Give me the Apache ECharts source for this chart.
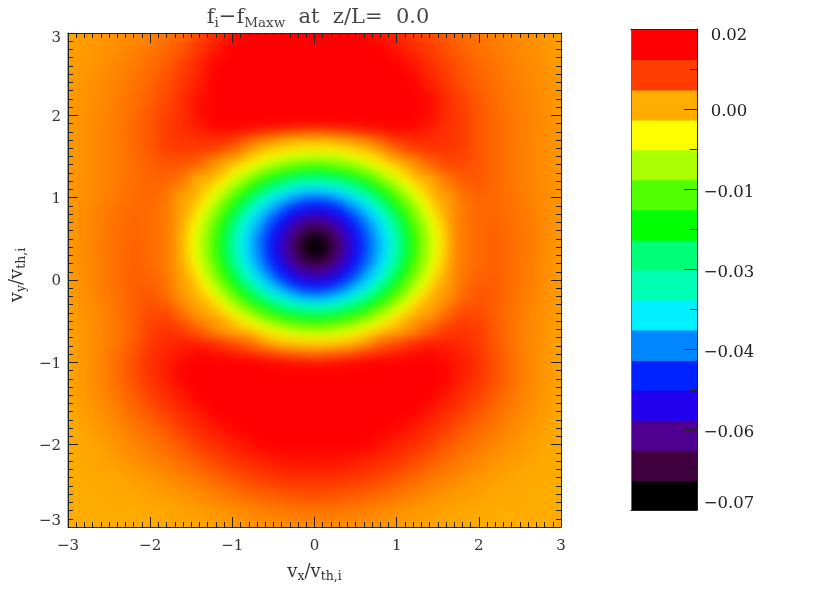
<!DOCTYPE html>
<html><head><meta charset="utf-8">
<style>
html,body{margin:0;padding:0;background:#fff}
#chart{width:830px;height:593px}
#chart canvas:first-of-type{filter:blur(6px);clip-path:inset(33px 269px 66px 67px)}
</style>
<script src="https://cdn.jsdelivr.net/npm/echarts@6/dist/echarts.min.js"></script>
</head><body><div id="chart"></div>
<script>
// field values are in units of 0.001; columns are vx nodes, rows run from the first vy node to the last
const vxNodes=[-3,-2.8,-2.6,-2.4,-2.2,-2,-1.8,-1.6,-1.4,-1.2,-1,-0.8,-0.6,-0.4,-0.2,0,0.2,0.4,0.6,0.8,1,1.2,1.4,1.6,1.8,2,2.2,2.4,2.6,2.8,3];
const vyNodes=[3,2.8,2.6,2.4,2.2,2,1.9,1.8,1.7,1.6,1.4,1.2,1,0.8,0.6,0.4,0.2,0,-0.2,-0.4,-0.6,-0.8,-0.9,-1,-1.1,-1.2,-1.4,-1.6,-1.8,-2,-2.2,-2.4,-2.6,-2.8,-3];
const fieldRows=[
[6,6.2,6.5,6.8,7.2,7.6,8.2,9,10.5,12.5,15,17,18,18.5,18.5,18,18,17.5,16.5,14.5,13,11.5,10.5,9.5,8.8,8.2,7.8,7.4,7,6.5,6.1],
[6.1,6.4,6.8,7.2,7.6,8.2,9,10,12,14.5,17,19,20,20.5,21,21,21,20.5,19.5,17.5,15,13,11.5,10.3,9.3,8.6,8.1,7.6,7.2,6.7,6.2],
[6.2,6.6,7,7.5,8,8.8,9.6,11,13.5,16.5,18.5,20,21,22,22,22,22,21.5,20.5,19,17,15,12.8,11,10,9,8.4,7.8,7.4,6.9,6.3],
[6.3,6.7,7.2,7.7,8.3,9.2,10.2,11.8,14,17,19,20.5,21.5,22,22,22,22,22,21,20,18.5,16.5,14,11.8,10.3,9.4,8.6,8,7.5,7,6.4],
[6.4,6.8,7.3,7.9,8.6,9.5,10.6,12.5,15.5,18,20,21,22,22,22,22,22,22,21.5,20.5,19.5,18,16,12.8,11,9.8,8.8,8.1,7.6,7.1,6.5],
[6.4,6.9,7.4,8,8.8,9.8,11,12.8,15.5,18,19,19.5,20,20,20,20,20,20,20,19.5,19,18,16,13,11.2,10,9,8.2,7.7,7.2,6.5],
[6.4,6.9,7.5,8,8.9,9.9,11.2,12.7,15,17,17.5,17.5,17.5,17.5,17.5,17.5,17.5,17.5,17.5,17.5,17.5,17,15.3,12.8,11.3,10,9,8.3,7.8,7.3,6.6],
[6.5,7,7.5,8.1,8.9,9.9,11.3,12.5,13.5,15,15.5,14.5,13,11.5,10.5,10,10.5,11.5,13,14.5,15.5,15,13.5,12.3,11.2,10,9,8.3,7.8,7.3,6.6],
[6.5,7,7.5,8,8.9,9.9,11.2,12,12.5,12.5,12,9.5,7.5,6,5,5,5,6,7.5,9.5,12,13,13,12.2,11.3,10,9,8.3,7.7,7.2,6.6],
[6.5,7,7.5,8,8.9,9.8,11,11.5,11.5,11,9,6.8,5,4.5,1,0.5,1,4.5,5,6.8,9,11,12,12,11.3,10,9,8.3,7.7,7.2,6.6],
[6.5,7,7.5,8,8.7,9.4,10,10,9,6.5,5,-0.8,-5.5,-8.5,-11,-12,-11,-8.5,-5.5,-0.8,5,6.5,9,10.5,10.6,10,9,8.3,7.7,7.2,6.6],
[6.5,7,7.5,8,8.6,9.3,9.2,8,5,5,-4.5,-10.5,-17,-23,-27,-28,-27,-23,-17,-10.5,-4.5,5,5,8,9.5,9.9,9,8.3,7.7,7.2,6.6],
[6.5,7,7.6,8.2,8.8,9.1,8.3,6,5,-4.7,-12.5,-22,-30.5,-35.5,-38,-39,-38,-35.5,-30.5,-22,-12.5,-4.7,5,6,8.3,9.3,9,8.4,7.8,7.2,6.6],
[6.5,7.2,7.9,8.5,9,8.8,8,6,-1.2,-10,-21,-32,-38,-44,-49,-51,-49,-44,-38,-32,-21,-10,-1.2,6,8,9,9.2,8.6,8,7.3,6.6],
[6.5,7.2,8,8.6,9.2,8.8,8,5.8,-4.3,-14,-26,-36,-43,-52,-60,-63,-60,-52,-43,-36,-26,-14,-4.3,5.8,8,9,9.4,8.7,8.1,7.3,6.6],
[6.5,7.2,8,8.7,9.4,8.9,8,5.6,-5,-15,-28,-37,-45,-54,-64,-72,-64,-54,-45,-37,-28,-15,-5,5.6,8,9,9.5,8.8,8.1,7.3,6.6],
[6.4,7.2,7.9,8.7,9.4,9,8,5.6,-3.8,-13.5,-25,-35.5,-42.5,-50.5,-57.5,-60,-57.5,-50.5,-42.5,-35.5,-25,-13.5,-3.8,5.6,8,9,9.5,8.8,8,7.2,6.5],
[6.3,7.1,7.9,8.7,9.5,9.4,8.3,6,3,-9,-20,-30,-37,-42,-46,-47.5,-46,-42,-37,-30,-20,-9,3,6,8.3,9.4,9.6,8.8,8,7.2,6.4],
[6.2,7,7.7,8.6,9.5,10,8.8,6.5,5,-3.7,-10.5,-20,-28.5,-34,-36,-36.5,-36,-34,-28.5,-20,-10.5,-3.7,5,6.5,8.8,10,9.6,8.7,7.8,7,6.3],
[6.1,6.8,7.5,8.4,9.4,10.5,10.5,8.5,6,5.5,-3,-8.5,-15,-20.5,-24,-25,-24,-20.5,-15,-8.5,-3,5.5,6,8.5,10.5,10.5,9.5,8.5,7.6,6.9,6.2],
[6,6.7,7.4,8.3,9.5,11,12,11,9.3,7,5.5,5,-3.7,-6.5,-8.5,-9.5,-8.5,-6.5,-3.7,5,5.5,7,9.3,11,12,11.3,9.8,8.5,7.5,6.8,6.1],
[5.9,6.7,7.4,8.3,9.7,11.5,13,14,14,12.5,10.5,9,7,5.3,5,5,5,5.3,7,9,10.5,12.5,14,14,13,11.5,10,8.5,7.5,6.8,6],
[5.9,6.7,7.6,8.7,10.1,12,13.7,15,16.5,15.5,14.5,13,11.5,10,9,8.5,9,10,11.5,13,14.5,15.5,16.5,15,13.7,12,10.1,8.7,7.6,6.7,6],
[5.9,6.6,7.5,8.7,10.3,12.2,14.2,16,17.5,17.5,17.2,16.8,16.2,15.5,14.7,14.2,14.7,15.5,16.2,16.8,17.2,17.5,17.5,16,14.2,12.2,10.3,8.8,7.6,6.7,6],
[5.9,6.6,7.5,8.8,10.3,12.1,14.2,16.5,18,18.5,18.5,18.5,18.5,18.5,18.5,18.5,18.5,18.5,18.5,18.5,18.5,18.5,18,16.5,14.2,12.1,10.3,8.8,7.6,6.7,6],
[5.9,6.6,7.5,8.7,10.2,12,14,16.5,19,20,20,20,20,20,20,20,20,20,20,20,20,20,19,16.5,14,12,10.2,8.8,7.6,6.7,6],
[5.8,6.5,7.3,8.3,9.6,11,12.8,14.8,17,19,21,22,22,22,22,22,22,22,22,22,21,19,17,14.8,12.8,11,9.6,8.4,7.4,6.6,5.9],
[5.7,6.3,7,7.8,8.9,10,11.3,13,15,17.2,19,21,22,22,22,22,22,22,22,21,19,17.2,15,13,11.3,10,8.9,7.9,7.1,6.4,5.8],
[5.6,6,6.6,7.3,8.2,9,10,11.4,13,14.7,16.3,18,19,20,20.5,21,20.5,20,19,18,16.3,14.7,13,11.4,10,9,8.2,7.4,6.7,6.1,5.7],
[5.6,5.8,6.2,6.8,7.5,8.2,9,10,11.3,12.7,14,15.5,16.8,17.6,18.3,18.5,18.3,17.6,16.8,15.5,14,12.7,11.3,10,9,8.2,7.5,6.9,6.3,5.9,5.6],
[5.6,5.7,6,6.4,6.9,7.5,8.1,8.9,9.8,10.8,12,13,14,14.8,15.3,15.5,15.3,14.8,14,13,12,10.8,9.8,8.9,8.1,7.5,6.9,6.4,6,5.7,5.6],
[5.6,5.6,5.7,5.9,6.3,6.7,7.2,7.8,8.4,9.2,10,10.8,11.6,12.1,12.5,12.7,12.5,12.1,11.6,10.8,10,9.2,8.4,7.8,7.2,6.7,6.3,5.9,5.7,5.6,5.6],
[5.6,5.6,5.6,5.7,5.8,6.1,6.4,6.8,7.3,7.9,8.5,9.1,9.6,10,10.3,10.5,10.3,10,9.6,9.1,8.5,7.9,7.3,6.8,6.4,6.1,5.8,5.7,5.6,5.6,5.6],
[5.6,5.6,5.6,5.6,5.6,5.7,5.9,6.1,6.4,6.7,7.1,7.5,7.9,8.2,8.4,8.5,8.4,8.2,7.9,7.5,7.1,6.7,6.4,6.1,5.9,5.7,5.6,5.6,5.6,5.6,5.6],
[5.6,5.6,5.6,5.6,5.6,5.6,5.7,5.8,6,6.2,6.4,6.7,6.9,7.1,7.2,7.3,7.2,7.1,6.9,6.7,6.4,6.2,6,5.8,5.7,5.6,5.6,5.6,5.6,5.6,5.6]
];
// closed contours of the central hole, outermost first: level, half-width in vx, half-height in vy, centre vy
const ringLevels=[5,4,3,2,1,0,-2,-4,-6,-8,-11,-14,-17,-20,-23,-26,-29,-32,-34,-37,-39,-42,-45,-48,-51,-54,-57,-60,-63,-66,-69,-72];
const ringHalfX=[1.63,1.6,1.57,1.55,1.53,1.51,1.46,1.42,1.38,1.34,1.27,1.22,1.17,1.13,1.08,1.04,0.985,0.93,0.89,0.82,0.75,0.67,0.6,0.54,0.48,0.42,0.35,0.29,0.22,0.16,0.1,0.05];
const ringHalfY=[1.28,1.24,1.21,1.19,1.165,1.145,1.115,1.085,1.055,1.03,0.98,0.945,0.915,0.88,0.84,0.81,0.77,0.735,0.705,0.66,0.62,0.58,0.545,0.495,0.44,0.39,0.33,0.27,0.21,0.15,0.095,0.05];
const ringCentreY=[0.44,0.44,0.44,0.44,0.435,0.435,0.435,0.43,0.43,0.43,0.43,0.425,0.425,0.425,0.425,0.425,0.425,0.425,0.425,0.42,0.42,0.42,0.41,0.41,0.41,0.41,0.41,0.41,0.41,0.41,0.41,0.41];
const ringCentreX=0.01;
const bandValues=[-67.5,-61.9,-56.2,-50.6,-45,-39.4,-33.7,-28.1,-22.5,-16.9,-11.2,-5.6,0,5.6,11.2,16.9];
const bandColors=['#000000','#400040','#500090','#2200ee','#0022ff','#0088ff','#00f0ff','#00ffb4','#00ff78','#00ff00','#50ff00','#aaff00','#ffff00','#ffaa00','#ff3c00','#ff0000'];
const xTickLabels={'-3':'−3','-2':'−2','-1':'−1','0':'0','1':'1','2':'2','3':'3'};
const barTickLabels=['−0.07','−0.06','−0.04','−0.03','−0.01','0.00','0.02'];

const FONT='"DejaVu Serif"';
const INK='#333';
const cells=[];
fieldRows.forEach((r,j)=>{
 const y=vyNodes[j];
 const top=j===0?y+0.5:(y+vyNodes[j-1])/2;
 const bot=j===vyNodes.length-1?y-0.5:(y+vyNodes[j+1])/2;
 r.forEach((v,i)=>cells.push([vxNodes[i],y,v,top,bot]));
});
const rings=ringLevels.map((v,i)=>[ringCentreX,ringCentreY[i],v,ringHalfX[i],ringHalfY[i]]);
const bands=bandValues.map(v=>[0.5,v,v]);
const hidden={axisLabel:{show:false},axisTick:{show:false},splitLine:{show:false}};
const frame={lineStyle:{color:'#222',width:1}};
function axisBase(){return {min:-3,max:3,interval:1,zlevel:1,z:10,splitLine:{show:false},axisLine:{onZero:false,...frame},
  axisTick:{show:true,inside:true,length:10,lineStyle:{color:'#222'}},
  minorTick:{show:true,splitNumber:10,length:5,lineStyle:{color:'#222'}},minorSplitLine:{show:false}};}
const subRich={m:{fontFamily:FONT,fontSize:18,fontWeight:'normal',color:INK},s:{fontFamily:FONT,fontSize:12.5,fontWeight:'normal',color:INK,verticalAlign:'bottom',padding:[9,0,0,0]}};
function edgeRich(size,color,shift,squeeze){
 const base={fontFamily:FONT,fontSize:size,color};
 return {m:{...base,padding:[shift,0,0,0]},t:{...base,lineHeight:squeeze},b:{...base,lineHeight:squeeze}};
}
function tag(text,isMax,isMin){return '{'+(isMax?'t':isMin?'b':'m')+'|'+text+'}';}

const chart=echarts.init(document.getElementById('chart'),null,{renderer:'canvas',width:830,height:593});
chart.setOption({
 animation:false,
 title:{zlevel:1,left:313,top:0,textAlign:'center',text:'{m|f}{s|i}{m|−f}{s|Maxw}{m|  at  z/L=  0.0}',
  textStyle:{fontWeight:'normal',rich:{m:{fontFamily:FONT,fontSize:21,fontWeight:'normal',color:'#444'},s:{fontFamily:FONT,fontSize:13.5,fontWeight:'normal',color:'#444',verticalAlign:'bottom',padding:[11,0,0,0]}}}},
 grid:[{left:67,top:33,width:494,height:494},{left:631,top:29,width:66,height:481}],
 visualMap:{show:false,type:'continuous',seriesIndex:[0,1,2],dimension:2,min:-67.5,max:16.9,inRange:{color:bandColors}},
 xAxis:[
  {type:'value',gridIndex:0,position:'bottom',...axisBase(),
   axisLabel:{margin:12,fontFamily:FONT,fontSize:15,color:INK,formatter:v=>xTickLabels[v]},
   name:'{m|v}{s|x}{m|/v}{s|th,i}',nameLocation:'middle',nameGap:34,nameTextStyle:{rich:subRich}},
  {type:'value',gridIndex:0,position:'top',...axisBase(),axisLabel:{show:false}},
  {type:'value',gridIndex:1,position:'bottom',min:0,max:1,zlevel:1,z:10,axisLine:{onZero:false,...frame},...hidden},
  {type:'value',gridIndex:1,position:'top',min:0,max:1,zlevel:1,z:10,axisLine:{onZero:false,...frame},...hidden}
 ],
 yAxis:[
  {type:'value',gridIndex:0,position:'left',...axisBase(),
   axisLabel:{margin:7,fontFamily:FONT,fontSize:15,color:INK,rich:edgeRich(15,INK,3,11),
    formatter:v=>tag(xTickLabels[v],v===3,v===-3),verticalAlignMaxLabel:'top',verticalAlignMinLabel:'bottom'},
   name:'{m|v}{s|y}{m|/v}{s|th,i}',nameLocation:'middle',nameGap:39,nameRotate:90,nameTextStyle:{rich:subRich,padding:[0,0,0,10]}},
  {type:'value',gridIndex:0,position:'right',...axisBase(),axisLabel:{show:false}},
  {type:'value',gridIndex:1,position:'right',min:-70.3,max:19.7,interval:15,zlevel:1,z:10,splitLine:{show:false},
   axisLine:{onZero:false,...frame},
   axisTick:{show:true,inside:true,length:13,lineStyle:{color:'#222'}},
   minorTick:{show:true,splitNumber:2,length:7,lineStyle:{color:'#222'}},
   axisLabel:{margin:32,align:'center',fontFamily:FONT,fontSize:16.5,color:'#222',rich:edgeRich(16.5,'#222',6,13),
    formatter:v=>{const k=Math.round((v+70.3)/15);return tag(barTickLabels[k],k===6,k===0);},verticalAlignMaxLabel:'top',verticalAlignMinLabel:'bottom'}},
  {type:'value',gridIndex:1,position:'left',min:-70.3,max:19.7,zlevel:1,z:10,axisLine:{onZero:false,lineStyle:{color:'#666'}},...hidden}
 ],
 series:[
  {type:'custom',xAxisIndex:0,yAxisIndex:0,coordinateSystem:'cartesian2d',zlevel:0,silent:true,clip:false,
   data:cells,encode:{x:0,y:1},dimensions:['vx','vy','v','top','bot'],
   renderItem(params,api){
    const x=api.value(0);
    const a=api.coord([x===-3?x-0.5:x-0.1,api.value(3)]);
    const b=api.coord([x===3?x+0.5:x+0.1,api.value(4)]);
    return {type:'rect',shape:{x:a[0]-0.5,y:a[1]-0.5,width:b[0]-a[0]+1,height:b[1]-a[1]+1},style:{fill:api.visual('color')}};
   }},
  {type:'custom',xAxisIndex:0,yAxisIndex:0,coordinateSystem:'cartesian2d',zlevel:0,z:3,silent:true,clip:false,
   data:rings,encode:{x:0,y:1},dimensions:['cx','cy','v','rx','ry'],
   renderItem(params,api){
    const c=api.coord([api.value(0),api.value(1)]);
    const s=api.size([api.value(3),api.value(4)]);
    return {type:'ellipse',shape:{cx:c[0],cy:c[1],rx:s[0],ry:s[1]},style:{fill:api.visual('color')}};
   }},
  {type:'custom',xAxisIndex:2,yAxisIndex:2,coordinateSystem:'cartesian2d',zlevel:1,z:2,silent:true,clip:true,
   data:bands,encode:{x:0,y:1},dimensions:['x','c','v'],
   renderItem(params,api){
    const a=api.coord([0,api.value(1)+2.8125]);
    const b=api.coord([1,api.value(1)-2.8125]);
    return {type:'rect',shape:{x:a[0],y:a[1]-1,width:b[0]-a[0],height:b[1]-a[1]+2},style:{fill:api.visual('color')}};
   }}
 ]
});
</script></body></html>
